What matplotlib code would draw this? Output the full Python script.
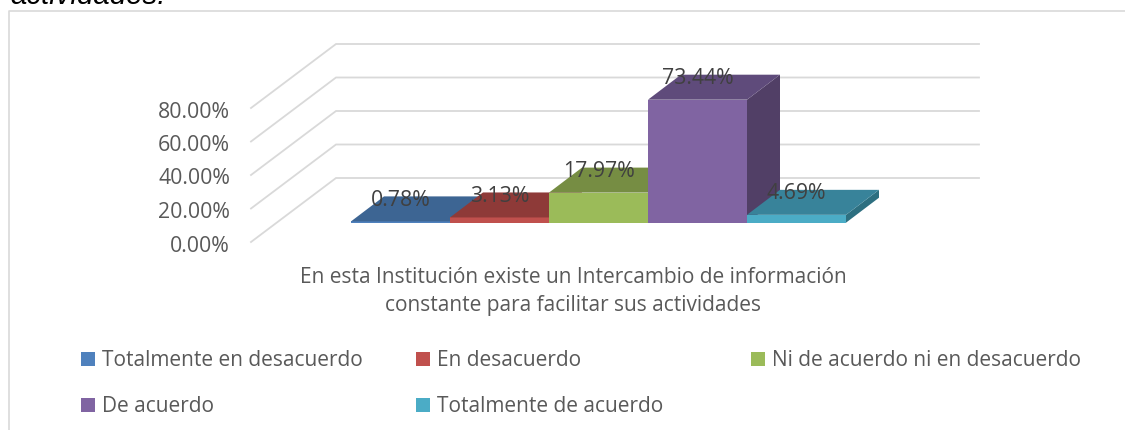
import matplotlib
matplotlib.use("Agg")
import matplotlib.pyplot as plt
from matplotlib.patches import Patch, Polygon
from matplotlib.transforms import Affine2D

categories = ['Totalmente en desacuerdo', 'En desacuerdo', 'Ni de acuerdo ni en desacuerdo',
              'De acuerdo', 'Totalmente de acuerdo']
values = [0.78, 3.13, 17.97, 73.44, 4.69]
value_labels = ['0.78%', '3.13%', '17.97%', '73.44%', '4.69%']
ticks = [0, 20, 40, 60, 80]
tick_labels = ['0.00%', '20.00%', '40.00%', '60.00%', '80.00%']
axis_title = 'En esta Institución existe un Intercambio de información\nconstante para facilitar sus actividades'

front_colors = ['#4f81bd', '#c0504d', '#9bbb59', '#8064a2', '#4bacc6']
top_colors = ['#3d6593', '#8e3a38', '#768d43', '#5f4b7b', '#38839a']
side_colors = ['#2f4d70', '#6c2d2b', '#596b33', '#513f66', '#2d6f80']

W, H = 1125, 430
plt.rcParams['font.family'] = ['Open Sans', 'DejaVu Sans']

# one category = 99 px, one percent = 1.675 px
x_px, y_px = 99.0, 1.675
x0_px, y0_px = 351.0, 222.7
dx, dy = 33 / x_px, 25 / y_px            # bar depth
floor_x, floor_y = -100 / x_px, -19.3 / y_px   # front left corner of the floor
back_x, back_y = 85 / x_px, 64 / y_px    # floor depth
grid_end = (979 - x0_px) / x_px
text_drop = 4 / y_px                     # text sits a bit low in its line

fig = plt.figure(figsize=(W / 100, H / 100), dpi=100)
ax = fig.add_axes([0, 0, 1, 1])
ax.set_xlim(-x0_px / x_px, (W - x0_px) / x_px)
ax.set_ylim(-(H - y0_px) / y_px, y0_px / y_px)
ax.axis('off')

# pixel coordinates from the top left, for the layout only
px = Affine2D().scale(1, -1).translate(0, H)

# chart frame
ax.plot([8.5, 8.5, W], [H, 10.8, 10.8], transform=px, color='#d9d9d9', lw=1.2, clip_on=False)
ax.text(10, 4.5, 'actividades.', transform=px, family='Liberation Sans', style='italic',
        fontsize=21.2, color='black', va='baseline', ha='left')

# grid on the floor side and back wall
for t, lab in zip(ticks, tick_labels):
    ax.plot([floor_x, floor_x + back_x, grid_end],
            [floor_y + t, floor_y + back_y + t, floor_y + back_y + t],
            color='#d9d9d9', lw=1.3, zorder=1, solid_joinstyle='miter')
    ax.text(floor_x - 21 / x_px, floor_y + t - text_drop, lab, ha='right', va='center',
            fontsize=15.3, color='#595959')

# bars, left to right so the later ones cover the earlier ones
for i, v in enumerate(values):
    ax.add_patch(Polygon([(i, 0), (i + 1, 0), (i + 1, v), (i, v)],
                         facecolor=front_colors[i], edgecolor='none', zorder=3))
    ax.add_patch(Polygon([(i + 1, 0), (i + 1 + dx, dy), (i + 1 + dx, v + dy), (i + 1, v)],
                         facecolor=side_colors[i], edgecolor='none', zorder=3))
    ax.add_patch(Polygon([(i, v), (i + 1, v), (i + 1 + dx, v + dy), (i + dx, v + dy)],
                         facecolor=top_colors[i], edgecolor='none', zorder=3))

for i, v in enumerate(values):
    ax.text(i + 0.5, v + dy - text_drop, value_labels[i], ha='center', va='center',
            fontsize=15.3, color='#404040', zorder=5)

ax.text(573, 291.5, axis_title, transform=px, ha='center', va='center', fontsize=15.05,
        color='#595959', linespacing=1.47, multialignment='center')

# legend, three equal columns
columns = [([0, 3], 81), ([1, 4], 416), ([2], 751)]
for idx, x in columns:
    handles = [Patch(facecolor=front_colors[k], edgecolor='none', label=categories[k]) for k in idx]
    leg = ax.legend(handles=handles, loc='upper left', bbox_to_anchor=(x / W, 1 - 350.5 / H),
                    bbox_transform=fig.transFigure, frameon=False, fontsize=15,
                    borderpad=0, borderaxespad=0, handlelength=0.67, handleheight=0.67,
                    handletextpad=0.32, labelspacing=1.2, labelcolor='#595959')
    if x != columns[-1][1]:
        ax.add_artist(leg)

fig.savefig('out.png', dpi=100)
